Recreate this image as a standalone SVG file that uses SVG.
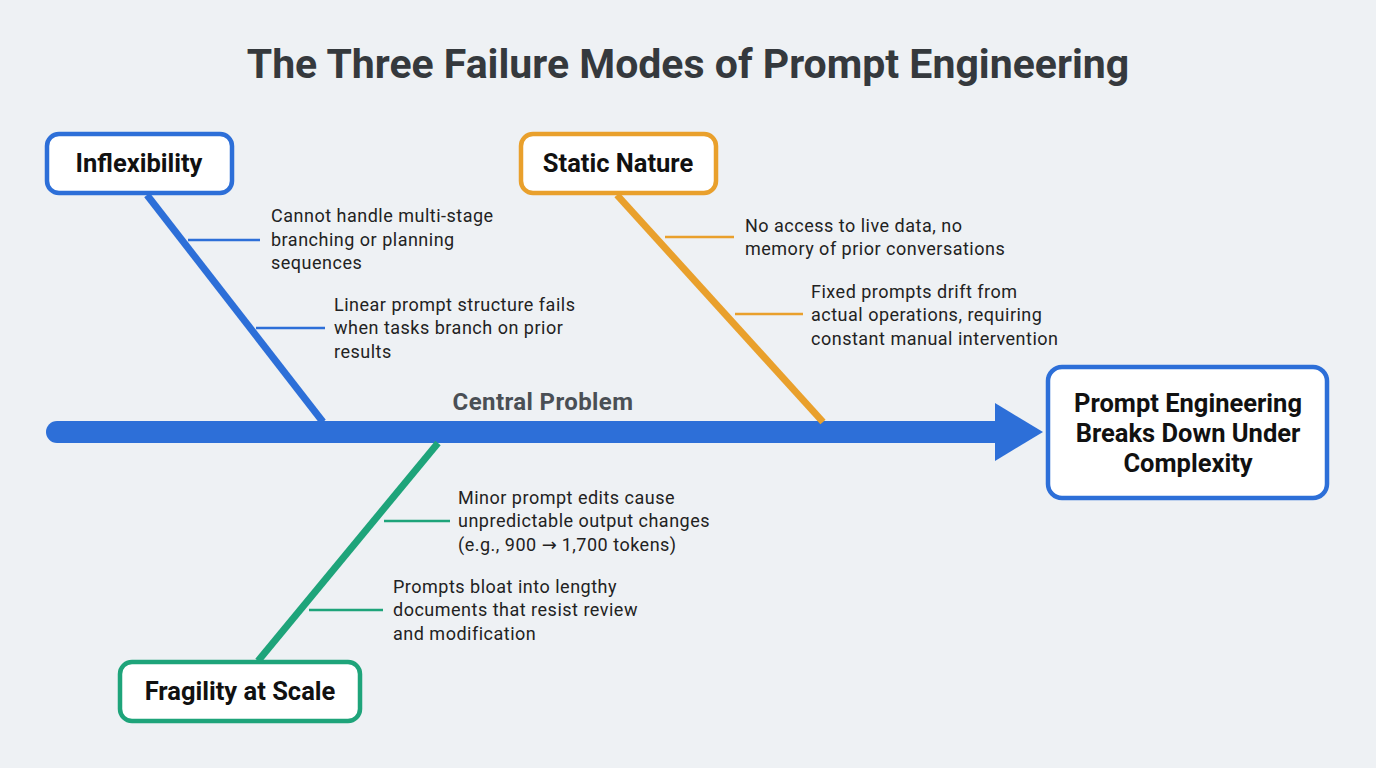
<svg xmlns="http://www.w3.org/2000/svg" width="1376" height="768" viewBox="0 0 1376 768">
<defs>
<style>
.title{font-family:Roboto,"Liberation Sans",sans-serif;font-weight:700;font-size:41px;fill:#35393d;text-anchor:middle}
.head{font-family:Roboto,"Liberation Sans",sans-serif;font-weight:700;font-size:25.5px;fill:#111;text-anchor:middle}
.note{font-family:Roboto,"Liberation Sans",sans-serif;font-size:18px;letter-spacing:0.5px;fill:#222}
.arrow{font-family:"DejaVu Sans",sans-serif;letter-spacing:0}
.central{font-family:Roboto,"Liberation Sans",sans-serif;font-weight:700;font-size:24px;letter-spacing:0.4px;fill:#4a4f55;text-anchor:middle}
.box{fill:#fff;stroke-width:4.5}
.blue{stroke:#2d6fd8}
.orange{stroke:#e9a02c}
.green{stroke:#1ea47a}
</style>
</defs>
<rect width="1376" height="768" fill="#eef1f4"/>
<text class="title" x="688" y="78">The Three Failure Modes of Prompt Engineering</text>

<g id="connectors">
  <line x1="57" y1="432" x2="1000" y2="432" stroke="#2d6fd8" stroke-width="22" stroke-linecap="round"/>
  <polygon points="995,403 1043,432 995,461" fill="#2d6fd8"/>
  <line x1="147" y1="195" x2="323" y2="422" stroke="#2d6fd8" stroke-width="7"/>
  <line x1="188" y1="240" x2="260" y2="240" stroke="#2d6fd8" stroke-width="2.5"/>
  <line x1="256" y1="328" x2="325" y2="328" stroke="#2d6fd8" stroke-width="2.5"/>
  <line x1="617" y1="195" x2="823" y2="422" stroke="#e9a02c" stroke-width="7"/>
  <line x1="665" y1="237" x2="734" y2="237" stroke="#e9a02c" stroke-width="2.5"/>
  <line x1="735" y1="314" x2="803" y2="314" stroke="#e9a02c" stroke-width="2.5"/>
  <line x1="438" y1="443" x2="258" y2="661" stroke="#1ea47a" stroke-width="7"/>
  <line x1="384" y1="521" x2="450" y2="521" stroke="#1ea47a" stroke-width="2.5"/>
  <line x1="309" y1="610" x2="383" y2="610" stroke="#1ea47a" stroke-width="2.5"/>
</g>
<text class="central" x="543" y="410">Central Problem</text>

<g id="inflexibility">
  <rect class="box blue" x="47" y="134" width="185" height="59" rx="12"/>
  <text class="head" x="139" y="172">Inflexibility</text>
  <text class="note" x="271" y="222">Cannot handle multi-stage</text>
  <text class="note" x="271" y="246">branching or planning</text>
  <text class="note" x="271" y="269">sequences</text>
  <text class="note" x="334" y="311">Linear prompt structure fails</text>
  <text class="note" x="334" y="334">when tasks branch on prior</text>
  <text class="note" x="334" y="358">results</text>
</g>

<g id="static-nature">
  <rect class="box orange" x="521" y="134" width="195" height="59" rx="12"/>
  <text class="head" x="618" y="172">Static Nature</text>
  <text class="note" x="745" y="232">No access to live data, no</text>
  <text class="note" x="745" y="255">memory of prior conversations</text>
  <text class="note" x="811" y="298">Fixed prompts drift from</text>
  <text class="note" x="811" y="321">actual operations, requiring</text>
  <text class="note" x="811" y="345">constant manual intervention</text>
</g>

<g id="fragility">
  <rect class="box green" x="120" y="662" width="240" height="59" rx="12"/>
  <text class="head" x="240" y="700">Fragility at Scale</text>
  <text class="note" x="458" y="504">Minor prompt edits cause</text>
  <text class="note" x="458" y="527">unpredictable output changes</text>
  <text class="note" x="458" y="551">(e.g., 900 <tspan class="arrow">→</tspan> 1,700 tokens)</text>
  <text class="note" x="393" y="593">Prompts bloat into lengthy</text>
  <text class="note" x="393" y="616">documents that resist review</text>
  <text class="note" x="393" y="640">and modification</text>
</g>

<g id="result">
  <rect class="box blue" x="1048" y="367" width="279" height="131" rx="14" stroke-width="5.5"/>
  <text class="head" x="1188" y="412">Prompt Engineering</text>
  <text class="head" x="1188" y="442">Breaks Down Under</text>
  <text class="head" x="1188" y="472">Complexity</text>
</g>
</svg>
